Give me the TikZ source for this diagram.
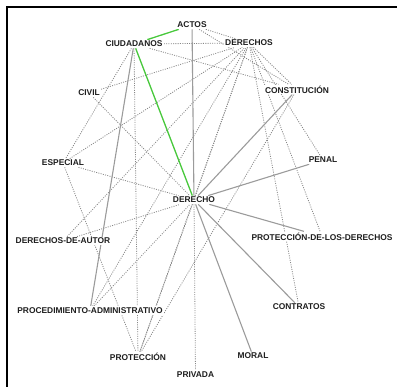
\documentclass[tikz,border=0pt]{standalone}
\usepackage{fontspec}
\setmainfont{Liberation Sans}
\usepackage{xcolor}
\definecolor{edgegray}{RGB}{135,135,135}
\definecolor{strongray}{RGB}{155,155,155}
\definecolor{edgegreen}{RGB}{72,200,60}
\definecolor{labelink}{RGB}{30,30,30}
\usetikzlibrary{backgrounds}
\tikzset{
  term/.style={font=\fontsize{8.4}{9}\selectfont\bfseries, text=labelink,
               fill=white, inner sep=1.2pt},
  weak/.style={edgegray, dash pattern=on 1pt off 1.3pt, line width=0.8pt},
  strong/.style={strongray, line width=1.1pt},
  hot/.style={edgegreen, line width=1.3pt},
}

\begin{document}
\begin{tikzpicture}[x=1pt, y=-1pt]
\useasboundingbox (0,0) rectangle (397,387);

% --- frame ---
\draw[black, line width=1.2pt] (7,387) -- (7,7) -- (397,7);

% --- terms ---
\node[term] (actos)         at (192,25)    {ACTOS};
\node[term] (ciudadanos)    at (134,44)    {CIUDADANOS};
\node[term] (derechos)      at (249,43)    {DERECHOS};
\node[term] (civil)         at (89,93)     {CIVIL};
\node[term] (constitucion)  at (297,89.5)  {CONSTITUCIÓN};
\node[term] (especial)      at (63,163)    {ESPECIAL};
\node[term] (penal)         at (323,160)   {PENAL};
\node[term] (derecho)       at (194,200)   {DERECHO};
\node[term] (autor)         at (63,241)    {DERECHOS-DE-AUTOR};
\node[term] (proteccionder) at (322,236.5) {PROTECCIÓN-DE-LOS-DERECHOS};
\node[term] (contratos)     at (299,307)   {CONTRATOS};
\node[term] (procadmin)     at (90,310.5)  {PROCEDIMIENTO-ADMINISTRATIVO};
\node[term] (moral)         at (253,356)   {MORAL};
\node[term] (proteccion)    at (138,357)   {PROTECCIÓN};
\node[term] (privada)       at (195.5,374.5) {PRIVADA};

\begin{scope}[on background layer]
% --- weak links ---
\draw[weak] (ciudadanos) -- (derechos);
\draw[weak] (actos) -- (derechos);
\draw[weak] (actos) -- (constitucion);
\draw[weak] (ciudadanos) -- (constitucion);
\draw[weak] (derechos) -- (constitucion);
\draw[weak] (ciudadanos) -- (especial);
\draw[weak] (ciudadanos) -- (proteccion);
\draw[weak] (civil) -- (derechos);
\draw[weak] (especial) -- (derechos);
\draw[weak] (autor) -- (derechos);
\draw[weak] (procadmin) -- (derechos);
\draw[weak] (derechos) -- (derecho);
\draw[weak] (derechos) -- (penal);
\draw[weak] (derechos) -- (proteccionder);
\draw[weak] (derechos) -- (contratos);
\draw[weak] (derechos) -- (proteccion);
\draw[weak] (civil) -- (derecho);
\draw[weak] (especial) -- (derecho);
\draw[weak] (especial) -- (proteccion);
\draw[weak] (autor) -- (derecho);
\draw[weak] (procadmin) -- (derecho);
\draw[weak] (derecho) -- (proteccion);
\draw[weak] (derecho) -- (privada);
\draw[weak] (constitucion) -- (proteccion);

% --- strong links ---
\draw[strong] (actos) -- (derecho);
\draw[strong] (ciudadanos) -- (procadmin);
\draw[strong] (constitucion) -- (derecho);
\draw[strong] (penal) -- (derecho);
\draw[strong] (derecho) -- (proteccionder);
\draw[strong] (derecho) -- (contratos);
\draw[strong] (derecho) -- (moral);

% --- highlighted path ---
\draw[hot] (actos) -- (ciudadanos);
\draw[hot] (ciudadanos) -- (derecho);
\end{scope}

\end{tikzpicture}
\end{document}
